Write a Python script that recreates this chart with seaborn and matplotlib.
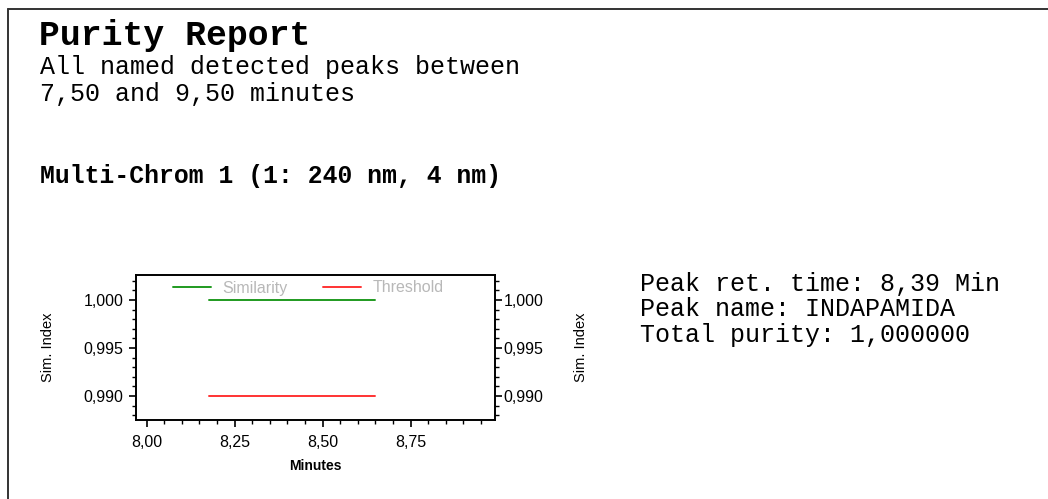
import matplotlib
matplotlib.use("Agg")
import matplotlib.pyplot as plt
from matplotlib.lines import Line2D
from matplotlib.ticker import MultipleLocator, FixedLocator
import seaborn as sns
import pandas as pd

# Peak purity trace (retention time in minutes)
peak_time = [8.176, 8.650]
similarity = [1.000, 1.000]
threshold = [0.990, 0.990]

x_ticks = [8.00, 8.25, 8.50, 8.75]
x_tick_labels = ["8,00", "8,25", "8,50", "8,75"]
y_ticks = [0.990, 0.995, 1.000]
y_tick_labels = ["0,990", "0,995", "1,000"]

title = "Purity Report"
subtitle_lines = ["All named detected peaks between", "7,50 and 9,50 minutes"]
channel_label = "Multi-Chrom 1 (1: 240 nm, 4 nm)"
peak_info = ["Peak ret. time: 8,39 Min", "Peak name: INDAPAMIDA", "Total purity: 1,000000"]

sns.set_style("white")
plt.rcParams["font.family"] = ["Liberation Sans", "DejaVu Sans"]
plt.rcParams["text.color"] = "black"
plt.rcParams["axes.labelcolor"] = "black"
plt.rcParams["xtick.color"] = "black"
plt.rcParams["ytick.color"] = "black"

W, H = 1048, 499
fig = plt.figure(figsize=(W / 100, H / 100), dpi=100)

def fx(px):
    return px / W

def fy(py):
    return 1 - py / H

# Page frame (left and top edges)
fig.add_artist(Line2D([fx(7.5), fx(7.5)], [fy(9), 0], color="#333333", lw=1.4))
fig.add_artist(Line2D([fx(7.5), 1], [fy(9), fy(9)], color="#333333", lw=1.4))

mono = "Liberation Mono"
fig.text(fx(39), fy(35), title, family=mono, fontweight="bold", fontsize=25, va="center", ha="left")
for i, line in enumerate(subtitle_lines):
    fig.text(fx(40), fy(67 + 27 * i), line, family=mono, fontsize=18, va="center", ha="left")
fig.text(fx(40), fy(176), channel_label, family=mono, fontweight="bold", fontsize=17.8, va="center", ha="left")
for i, line in enumerate(peak_info):
    fig.text(fx(640), fy(284 + 25.5 * i), line, family=mono, fontsize=18, va="center", ha="left")

# Chart
left, right, top, bottom = 136, 495, 275, 420
aw, ah = right - left, bottom - top
ax = fig.add_axes([fx(left), fy(bottom), fx(aw), ah / H])

df = pd.DataFrame({"time": peak_time + peak_time,
                   "value": similarity + threshold,
                   "series": ["Similarity"] * len(peak_time) + ["Threshold"] * len(peak_time)})
sns.lineplot(data=df, x="time", y="value", hue="series",
             palette={"Similarity": "#1f9a1f", "Threshold": "#ff3333"},
             linewidth=1.4, ax=ax, legend=False)

ax.set_xlim(7.97, 8.99)
ax.set_ylim(0.9875, 1.0026)
ax.xaxis.set_major_locator(FixedLocator(x_ticks))
ax.set_xticklabels(x_tick_labels)
ax.xaxis.set_minor_locator(MultipleLocator(0.05))
ax.yaxis.set_major_locator(FixedLocator(y_ticks))
ax.set_yticklabels(y_tick_labels)
ax.yaxis.set_minor_locator(MultipleLocator(0.001))

tick_font = 11.5
ax.tick_params(axis="y", which="major", direction="out", length=5, width=1.2, labelsize=tick_font, pad=4,
               left=True)
ax.tick_params(axis="x", which="major", direction="out", length=5, width=1.2, labelsize=tick_font, pad=6,
               bottom=True)
ax.tick_params(which="minor", direction="out", length=3, width=1, left=True, bottom=True)
for s in ax.spines.values():
    s.set_color("black")
    s.set_linewidth(1.4)

ax.set_xlabel("Minutes", fontsize=10, fontweight="bold")
ax.xaxis.set_label_coords(0.5, (bottom - 459) / ah)
ax.set_ylabel("Sim. Index", fontsize=10.5)
ax.yaxis.set_label_coords((55 - left) / aw, 0.5)

# Mirror scale on the right
ax2 = ax.twinx()
ax2.set_ylim(ax.get_ylim())
ax2.yaxis.set_major_locator(FixedLocator(y_ticks))
ax2.set_yticklabels(y_tick_labels)
ax2.yaxis.set_minor_locator(MultipleLocator(0.001))
ax2.tick_params(which="major", direction="out", length=5, width=1.2, labelsize=tick_font, pad=1, right=True)
ax2.tick_params(which="minor", direction="out", length=3, width=1, right=True)
ax2.set_ylabel("Sim. Index", fontsize=10.5)
ax2.yaxis.set_label_coords((574 - left) / aw, 0.5)
for s in ax2.spines.values():
    s.set_visible(False)

handles = [Line2D([], [], color="#1f9a1f", lw=1.4), Line2D([], [], color="#ff3333", lw=1.4)]
ax.legend(handles, ["Similarity", "Threshold"], ncol=2, frameon=False, loc="center left",
          bbox_to_anchor=((173 - left) / aw, (bottom - 288) / ah), fontsize=11.5, labelcolor="#b8b8b8",
          handlelength=2.4, handletextpad=0.7, columnspacing=2.2, borderaxespad=0, borderpad=0)

fig.savefig("out.png", dpi=100, facecolor="white")
